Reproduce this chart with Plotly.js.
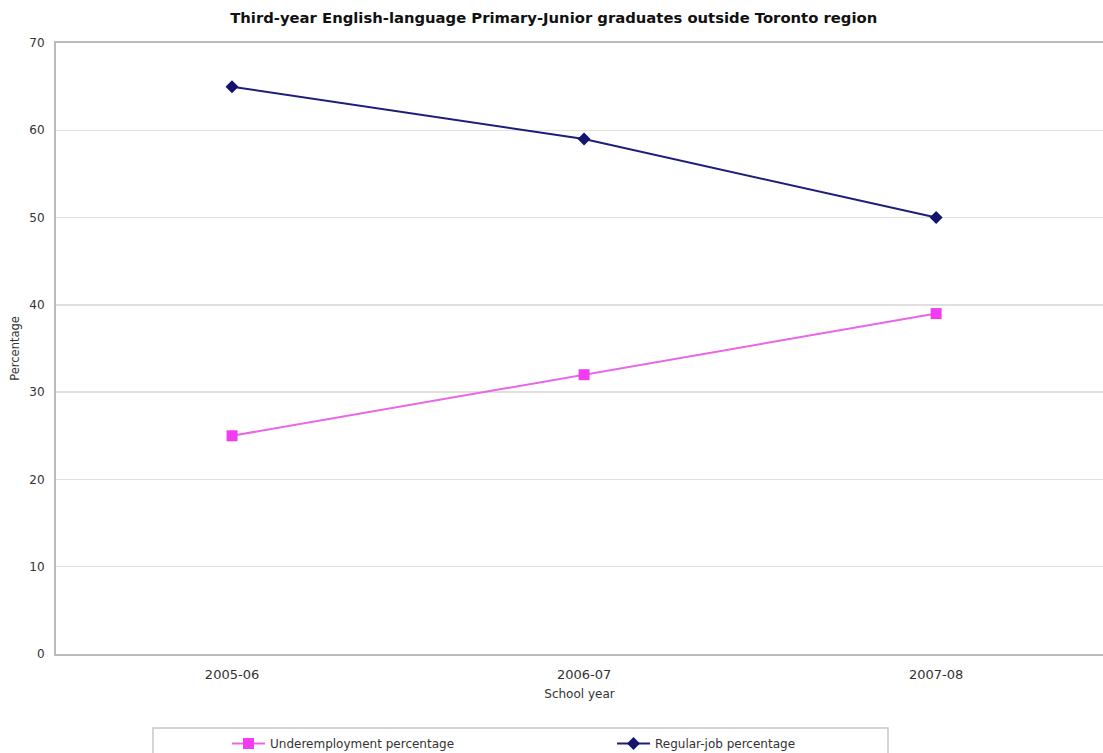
<!DOCTYPE html>
<html>
<head>
<meta charset="utf-8">
<script src="https://cdn.plot.ly/plotly-3.0.1.min.js"></script>
<style>
  html, body { margin: 0; padding: 0; background: #fff; }
  #chart { width: 1103px; height: 753px; }
</style>
</head>
<body>
<div id="chart"></div>
<script>
// School years on the category axis
const schoolYears = ['2005-06', '2006-07', '2007-08'];
// Share of graduates in each situation (%)
const underemploymentPct = [25, 32, 39];
const regularJobPct = [65, 59, 50];
const yTicks = [0, 10, 20, 30, 40, 50, 60, 70];

const FONT = 'DejaVu Sans, Verdana, sans-serif';

const traces = [
  {
    x: schoolYears,
    y: underemploymentPct,
    name: 'Underemployment percentage',
    type: 'scatter',
    mode: 'lines+markers',
    line: { color: '#E866E8', width: 2 },
    marker: { symbol: 'square', size: 11, color: '#F23CF2' }
  },
  {
    x: schoolYears,
    y: regularJobPct,
    name: 'Regular-job percentage',
    type: 'scatter',
    mode: 'lines+markers',
    line: { color: '#1E1E7A', width: 2 },
    marker: { symbol: 'diamond', size: 10, color: '#14146E' }
  }
];

const layout = {
  width: 1103,
  height: 753,
  paper_bgcolor: '#ffffff',
  plot_bgcolor: '#ffffff',
  margin: { l: 56, r: 0, t: 43, b: 99 },
  font: { family: FONT, color: '#333' },
  title: {
    text: '<b>Third-year English-language Primary-Junior graduates outside Toronto region</b>',
    font: { family: FONT, size: 14.8, color: '#111' },
    x: 0.502,
    xref: 'container',
    y: 1 - 18 / 753,
    yanchor: 'middle'
  },
  xaxis: {
    type: 'category',
    range: [-0.5, 2.474],
    showgrid: false,
    showline: true,
    mirror: true,
    linecolor: '#bbbbbb',
    linewidth: 2,
    ticks: '',
    ticklabelstandoff: 7,
    tickfont: { family: FONT, size: 13, color: '#333' },
    title: { text: 'School year', font: { family: FONT, size: 12, color: '#333' }, standoff: 9 },
    zeroline: false,
    fixedrange: true
  },
  yaxis: {
    range: [0, 70],
    tickvals: yTicks,
    ticktext: yTicks.map(String),
    showgrid: true,
    gridcolor: '#e0e0e0',
    gridwidth: 1.5,
    showline: true,
    linecolor: '#bbbbbb',
    linewidth: 2,
    ticks: '',
    ticklabelstandoff: 7,
    tickfont: { family: FONT, size: 12, color: '#333' },
    title: { text: 'Percentage', font: { family: FONT, size: 11.5, color: '#333' }, standoff: 7 },
    zeroline: false,
    fixedrange: true
  },
  showlegend: true,
  legend: {
    orientation: 'h',
    xref: 'container',
    yref: 'container',
    x: 227 / 1103,
    xanchor: 'left',
    y: 1 - 729 / 753,
    yanchor: 'top',
    itemwidth: 33,
    entrywidth: 337,
    entrywidthmode: 'pixels',
    bgcolor: 'rgba(0,0,0,0)',
    borderwidth: 0,
    font: { family: FONT, size: 12, color: '#333' },
    itemclick: false
  },
  shapes: [
    {
      type: 'rect',
      xref: 'paper', yref: 'paper',
      x0: (153 - 56) / 1047, x1: (888 - 56) / 1047,
      y0: -(728 - 654) / 611, y1: -(770 - 654) / 611,
      line: { color: '#c8c8c8', width: 1.5 },
      fillcolor: 'rgba(0,0,0,0)'
    }
  ]
};

Plotly.newPlot('chart', traces, layout, { displayModeBar: false, staticPlot: true });
</script>
</body>
</html>
